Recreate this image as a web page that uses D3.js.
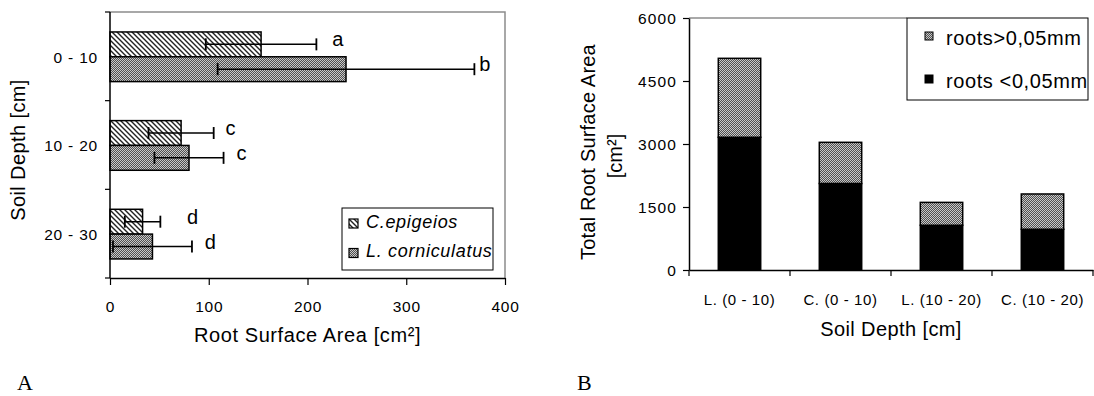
<!DOCTYPE html>
<html>
<head>
<meta charset="utf-8">
<script src="https://cdn.jsdelivr.net/npm/d3@7/dist/d3.min.js"></script>
<style>
  html, body { margin: 0; padding: 0; background: #fff; }
  svg { display: block; }
</style>
</head>
<body>
<svg id="chart" width="1094" height="396"></svg>
<script>
// ---------- Data: panel A ----------
const depths = ["0 - 10", "10 - 20", "20 - 30"];
const seriesA = ["C.epigeios", "L. corniculatus"];
const cEpigeios = [153, 72, 33];
const cEpigeiosErr = [56, 33, 18];
const lCorniculatus = [239, 80, 43];
const lCorniculatusErr = [130, 35, 40];
const cLetters = ["a", "c", "d"];
const lLetters = ["b", "c", "d"];
const cLetterAt = [225, 117, 78];   // annotation position in data units
const lLetterAt = [374, 128, 96];
const xTicksA = [0, 100, 200, 300, 400];

// ---------- Data: panel B ----------
const groupsB = ["L. (0 - 10)", "C. (0 - 10)", "L. (10 - 20)", "C. (10 - 20)"];
const rootsThin = [3160, 2060, 1065, 970];     // roots <0,05mm
const rootsThick = [1880, 980, 545, 840];      // roots >0,05mm
const yTicksB = [0, 1500, 3000, 4500, 6000];
const legendB = ["roots>0,05mm", "roots <0,05mm"];

const SANS = "'Liberation Sans', Arial, sans-serif";
const SERIF = "'Liberation Serif', 'Times New Roman', serif";

const svg = d3.select("#chart");
const defs = svg.append("defs");

function txt(sel, size, extra) {
  sel.style("font-family", SANS).style("font-size", size + "px").style("fill", "#000");
  if (extra) Object.entries(extra).forEach(([k, v]) => sel.style(k, v));
  return sel;
}

// hatch pattern (downward diagonal)
const hatch = defs.append("pattern").attr("id", "hatch")
  .attr("patternUnits", "userSpaceOnUse").attr("width", 5).attr("height", 5);
hatch.append("rect").attr("width", 5).attr("height", 5).attr("fill", "#fff");
hatch.append("path").attr("d", "M0,0L5,5M-1,4L1,6M4,-1L6,1")
  .attr("stroke", "#222").attr("stroke-width", 1.4);

// fine checker pattern
const checker = defs.append("pattern").attr("id", "checker")
  .attr("patternUnits", "userSpaceOnUse").attr("width", 2).attr("height", 2);
checker.append("rect").attr("width", 2).attr("height", 2).attr("fill", "#505050");
checker.append("rect").attr("x", 0).attr("y", 0).attr("width", 1).attr("height", 1).attr("fill", "#c8c8c8");
checker.append("rect").attr("x", 1).attr("y", 1).attr("width", 1).attr("height", 1).attr("fill", "#c8c8c8");

const fillsA = ["url(#hatch)", "url(#checker)"];

// ================= Panel A =================
const xA = d3.scaleLinear().domain([0, 400]).range([110, 505]);
const yA = d3.scaleBand().domain(depths).range([12, 278]).padding(0);
const bwA = yA.bandwidth();
const subA = d3.scaleBand().domain(seriesA).range([0.225 * bwA, 0.785 * bwA]).padding(0);

const gA = svg.append("g");

// frame (top & right, grey)
gA.append("path")
  .attr("d", `M${xA(0)},${yA.range()[0]}H${xA(400)}V${yA.range()[1]}`)
  .attr("fill", "none").attr("stroke", "#8c8c8c").attr("stroke-width", 1.5);

const rowsA = depths.map((d, i) => ([
  { depth: d, s: seriesA[0], v: cEpigeios[i], e: cEpigeiosErr[i], lab: cLetters[i], labAt: cLetterAt[i], fill: fillsA[0] },
  { depth: d, s: seriesA[1], v: lCorniculatus[i], e: lCorniculatusErr[i], lab: lLetters[i], labAt: lLetterAt[i], fill: fillsA[1] }
])).flat();

gA.selectAll("rect.bar").data(rowsA).join("rect")
  .attr("class", "bar")
  .attr("x", xA(0))
  .attr("y", d => yA(d.depth) + subA(d.s))
  .attr("width", d => xA(d.v) - xA(0))
  .attr("height", subA.bandwidth())
  .attr("fill", d => d.fill)
  .attr("stroke", "#000").attr("stroke-width", 1.5);

// error bars
const cy = d => yA(d.depth) + subA(d.s) + subA.bandwidth() / 2;
const errG = gA.selectAll("g.err").data(rowsA).join("g").attr("class", "err");
errG.append("line")
  .attr("x1", d => xA(d.v - d.e)).attr("x2", d => xA(d.v + d.e))
  .attr("y1", cy).attr("y2", cy)
  .attr("stroke", "#000").attr("stroke-width", 1.5);
[-1, 1].forEach(sgn => {
  errG.append("line")
    .attr("x1", d => xA(d.v + sgn * d.e)).attr("x2", d => xA(d.v + sgn * d.e))
    .attr("y1", d => cy(d) - 6).attr("y2", d => cy(d) + 6)
    .attr("stroke", "#000").attr("stroke-width", 1.8);
});

// letters
txt(gA.selectAll("text.lab").data(rowsA).join("text")
  .attr("class", "lab")
  .attr("x", d => xA(d.labAt))
  .attr("y", d => cy(d) + 2)
  .text(d => d.lab), 20);

// x axis
const axA = gA.append("g").attr("transform", `translate(0,${yA.range()[1]})`)
  .call(d3.axisBottom(xA).tickValues(xTicksA).tickSize(7).tickSizeOuter(0).tickFormat(d3.format("d")));
axA.select(".domain").attr("stroke", "#000").attr("stroke-width", 1.5);
axA.selectAll(".tick line").attr("stroke", "#000").attr("stroke-width", 1.2);
txt(axA.selectAll(".tick text").attr("y", 34).attr("dy", null), 15.5, { "letter-spacing": "0.8px" });

// y axis (labels centered, ticks at boundaries)
const ayA = gA.append("g").attr("transform", `translate(${xA(0)},0)`)
  .call(d3.axisLeft(yA).tickSize(0).tickPadding(12));
ayA.select(".domain").remove();
txt(ayA.selectAll(".tick text").attr("dy", "0.4em"), 15.5, { "letter-spacing": "0.8px" });
const bndA = depths.map(d => yA(d)).concat([yA.range()[1]]);
gA.selectAll("line.ytk").data(bndA).join("line").attr("class", "ytk")
  .attr("x1", xA(0) - 5).attr("x2", xA(0)).attr("y1", d => d).attr("y2", d => d)
  .attr("stroke", "#000").attr("stroke-width", 1.2);
gA.append("line").attr("x1", xA(0)).attr("x2", xA(0))
  .attr("y1", yA.range()[0]).attr("y2", yA.range()[1])
  .attr("stroke", "#000").attr("stroke-width", 1.5);

// titles
txt(gA.append("text").attr("x", (xA(0) + xA(400)) / 2).attr("y", 342)
  .attr("text-anchor", "middle").text("Root Surface Area [cm²]"), 20, { "letter-spacing": "0.6px" });
txt(gA.append("text").attr("transform", "translate(25,150) rotate(-90)")
  .attr("text-anchor", "middle").text("Soil Depth [cm]"), 20, { "letter-spacing": "0.4px" });

// legend A
const legA = gA.append("g");
legA.append("rect").attr("x", 342).attr("y", 208).attr("width", 151).attr("height", 62)
  .attr("fill", "#fff").attr("stroke", "#000").attr("stroke-width", 1);
seriesA.forEach((s, i) => {
  legA.append("rect").attr("x", 349).attr("y", 219 + i * 29.5).attr("width", 9).attr("height", 9)
    .attr("fill", fillsA[i]).attr("stroke", "#000").attr("stroke-width", 1.2);
  txt(legA.append("text").attr("x", 366).attr("y", 227.5 + i * 29.5).text(s), 18,
    { "font-style": "italic", "letter-spacing": "0.7px" });
});

svg.append("text").attr("x", 17).attr("y", 390).text("A")
  .style("font-family", SERIF).style("font-size", "22px").style("fill", "#000");

// ================= Panel B =================
const xB = d3.scaleBand().domain(groupsB).range([689, 1093]).padding(0);
const yB = d3.scaleLinear().domain([0, 6000]).range([270, 18]);
const stepB = xB.step();
const barW = stepB * 0.42;

const gB = svg.append("g");
gB.append("line").attr("x1", xB.range()[0]).attr("x2", 907)
  .attr("y1", yB(6000)).attr("y2", yB(6000))
  .attr("stroke", "#8c8c8c").attr("stroke-width", 1.5);

const stackData = groupsB.map((g, i) => ({ g, thin: rootsThin[i], thick: rootsThick[i] }));
const stack = d3.stack().keys(["thin", "thick"])(stackData);
const fillsB = { thin: "#000", thick: "url(#checker)" };

gB.selectAll("g.layer").data(stack).join("g").attr("class", "layer")
  .attr("fill", d => fillsB[d.key])
  .selectAll("rect").data(d => d).join("rect")
  .attr("x", d => xB(d.data.g) + (stepB - barW) / 2)
  .attr("width", barW)
  .attr("y", d => yB(d[1]))
  .attr("height", d => yB(d[0]) - yB(d[1]))
  .attr("stroke", "#000").attr("stroke-width", 1.5);

// y axis
const ayB = gB.append("g").attr("transform", `translate(${xB.range()[0]},0)`)
  .call(d3.axisLeft(yB).tickValues(yTicksB).tickSize(6).tickPadding(6).tickSizeOuter(0).tickFormat(d3.format("d")));
ayB.select(".domain").attr("stroke", "#000").attr("stroke-width", 1.5);
ayB.selectAll(".tick line").attr("stroke", "#000").attr("stroke-width", 1.2);
txt(ayB.selectAll(".tick text").attr("dy", "0.36em"), 15.5, { "letter-spacing": "1.1px" });

// x axis
const axB = gB.append("g").attr("transform", `translate(0,${yB(0)})`)
  .call(d3.axisBottom(xB).tickSize(0).tickSizeOuter(0));
axB.select(".domain").attr("stroke", "#000").attr("stroke-width", 1.5);
txt(axB.selectAll(".tick text").attr("y", 35).attr("dy", null), 15, { "letter-spacing": "0.6px" });
const bndB = groupsB.map(g => xB(g)).concat([xB.range()[1]]);
gB.selectAll("line.xtk").data(bndB).join("line").attr("class", "xtk")
  .attr("x1", d => d).attr("x2", d => d).attr("y1", yB(0)).attr("y2", yB(0) + 6)
  .attr("stroke", "#000").attr("stroke-width", 1.2);

// titles
txt(gB.append("text").attr("x", (xB.range()[0] + xB.range()[1]) / 2).attr("y", 336)
  .attr("text-anchor", "middle").text("Soil Depth [cm]"), 20, { "letter-spacing": "0.4px" });
txt(gB.append("text").attr("transform", "translate(595,152) rotate(-90)")
  .attr("text-anchor", "middle").text("Total Root Surface Area"), 20, { "letter-spacing": "0.2px" });
txt(gB.append("text").attr("transform", "translate(622,156) rotate(-90)")
  .attr("text-anchor", "middle").text("[cm²]"), 20);

// legend B
const legB = gB.append("g");
legB.append("rect").attr("x", 907).attr("y", 18).attr("width", 181).attr("height", 82)
  .attr("fill", "#fff").attr("stroke", "#000").attr("stroke-width", 1);
[fillsB.thick, fillsB.thin].forEach((f, i) => {
  legB.append("rect").attr("x", 925).attr("y", 32 + i * 43).attr("width", 8).attr("height", 8)
    .attr("fill", f).attr("stroke", "#000").attr("stroke-width", 1);
  txt(legB.append("text").attr("x", 946).attr("y", 45 + i * 43).text(legendB[i]), 20, { "letter-spacing": "0.6px" });
});

svg.append("text").attr("x", 577).attr("y", 390).text("B")
  .style("font-family", SERIF).style("font-size", "22px").style("fill", "#000");
</script>
</body>
</html>
